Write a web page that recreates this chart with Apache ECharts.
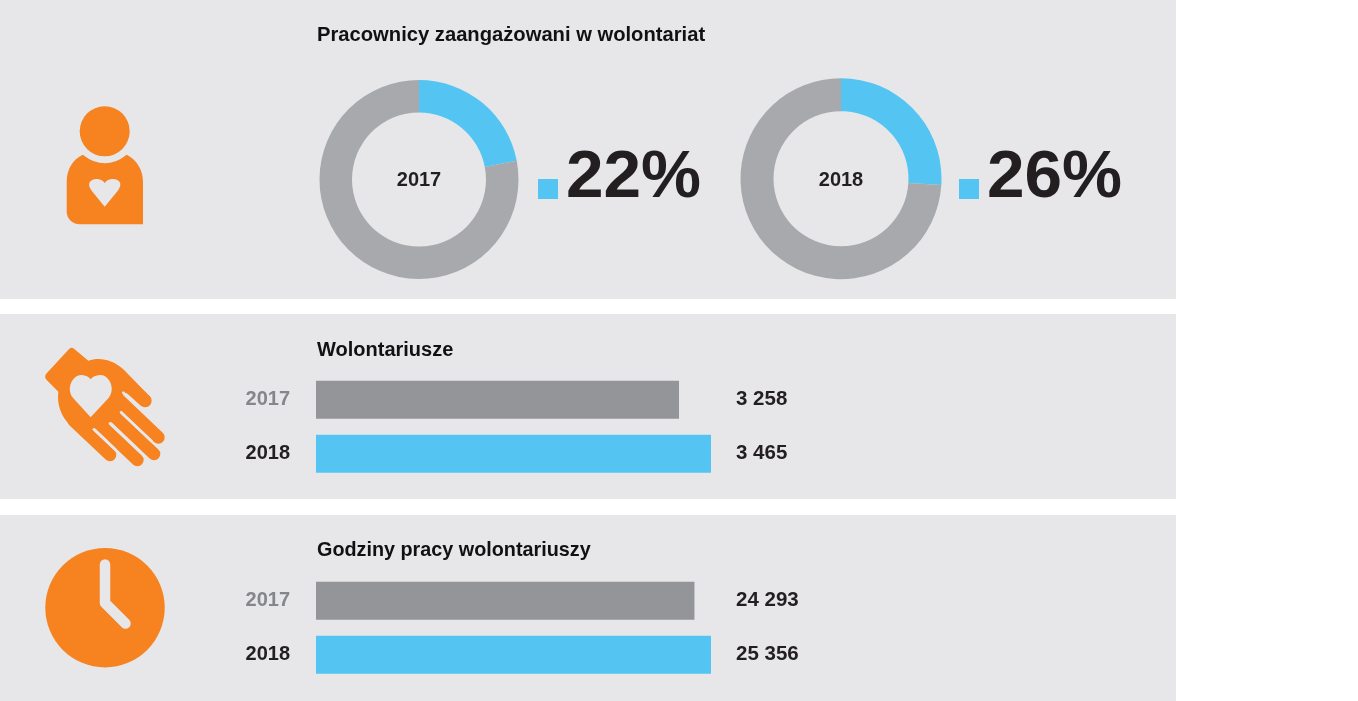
<!DOCTYPE html>
<html>
<head>
<meta charset="utf-8">
<style>
  html, body { margin: 0; padding: 0; background: #fff; }
  #main { width: 1358px; height: 701px; }
</style>
<script src="https://cdn.jsdelivr.net/npm/echarts@6/dist/echarts.min.js"></script>
</head>
<body>
<div id="main"></div>
<script>
const years = ['2017', '2018'];
const donutShares = [22, 26];
const volunteers = [3258, 3465];
const hours = [24293, 25356];
const titles = ['Pracownicy zaangażowani w wolontariat', 'Wolontariusze', 'Godziny pracy wolontariuszy'];

const FONT = '"Liberation Sans", Arial, sans-serif';
const PANEL = '#e7e7e9';
const ORANGE = '#f68220';
const BLUE = '#54c5f3';
const DARK = '#231f20';

const fmt = v => String(v).replace(/\B(?=(\d{3})+$)/g, ' ');

function titleAt(text, left, top, size, color, align) {
  return {
    text: text, left: left, top: top, padding: 0,
    textAlign: align || 'left',
    textStyle: { fontFamily: FONT, fontSize: size, fontWeight: 'bold', color: color || '#111' }
  };
}

function donut(i, cx, cy, r0, r1) {
  return {
    type: 'pie', silent: true, animation: false,
    center: [cx, cy], radius: [r0, r1], startAngle: 90, clockwise: true,
    label: { show: false }, labelLine: { show: false },
    data: [
      { value: donutShares[i], itemStyle: { color: BLUE } },
      { value: 100 - donutShares[i], itemStyle: { color: '#a7a9ac' } }
    ]
  };
}

function barSeries(idx, values) {
  return {
    type: 'bar', silent: true, animation: false,
    xAxisIndex: idx, yAxisIndex: idx * 2, barWidth: 38,
    data: values.map((v, k) => ({ value: v, itemStyle: { color: k ? BLUE : '#939598' } }))
  };
}

function yAxes(idx, values) {
  const base = {
    type: 'category', gridIndex: idx, inverse: true,
    axisLine: { show: false }, axisTick: { show: false }, splitLine: { show: false }
  };
  return [
    Object.assign({}, base, {
      data: years, position: 'left',
      axisLabel: {
        margin: 26, padding: [4, 0, 0, 0], fontFamily: FONT, fontSize: 20, fontWeight: 'bold',
        color: (v, k) => k === 0 ? '#848689' : DARK
      }
    }),
    Object.assign({}, base, {
      data: values.map(fmt), position: 'right',
      axisLabel: { margin: 25, padding: [4, 0, 0, 0], fontFamily: FONT, fontSize: 20.5, fontWeight: 'bold', color: DARK }
    })
  ];
}

function regPath(name, d) {
  echarts.graphic.registerShape(name, echarts.graphic.extendPath(d, {}));
  return name;
}

const panels = [[0, 299], [314, 185], [515, 186]].map(p => ({
  type: 'rect', z: -10, shape: { x: 0, y: p[0], width: 1176, height: p[1] }, style: { fill: PANEL }
}));

const squares = [[538, 179], [959, 179]].map(p => ({
  type: 'rect', shape: { x: p[0], y: p[1], width: 20, height: 20 }, style: { fill: BLUE }
}));

const heartPerson = regPath('heartPerson', 'M104.7 206.7 L91.5 190.5 C86 183 91 179 96.5 179 C100 179 103 180.5 104.7 183 C106.4 180.5 109.4 179 113 179 C118.5 179 123.5 183 118 190.5 Z');
const personBody = regPath('personBody', 'M82.7 154.7 Q105 172 126.7 154.7 C137 160 143 170 143 182 L143 224.3 L80 224.3 C72 224.3 66.7 218 66.7 211.7 L66.7 182 C66.7 170 72 160 82.7 154.7 Z');

const person = [
  { type: 'circle', shape: { cx: 104.7, cy: 131.3, r: 25 }, style: { fill: ORANGE } },
  { type: personBody, style: { fill: ORANGE } },
  { type: heartPerson, z: 3, style: { fill: PANEL } }
];

// ikony rysowane w ukladzie powiekszenia 3x, stad skala 1/3
const fingers = [
  [[290, 135], [375, 212], 40], [[292, 205], [415, 322], 38], [[279, 255], [402, 372], 38],
  [[229, 273], [352, 390], 38], [[161, 272], [270, 375], 38]
].map(f => ({
  type: 'polyline', shape: { points: [f[0], f[1]] },
  style: { stroke: ORANGE, lineWidth: f[2], lineCap: 'round', fill: 'none' }
}));
const slits = [
  [[310, 188], [370, 243]], [[303, 247], [395, 334]], [[270, 280], [362, 367]], [[222, 298], [285, 358]]
].map(f => ({
  type: 'polyline', z: 2, shape: { points: f },
  style: { stroke: PANEL, lineWidth: 8, lineCap: 'round', fill: 'none' }
}));
const palm = regPath('palm', 'M148 56 Q155 50 162 56 L205 92 C240 80 280 90 310 118 L380 190 L310 190 L303 248 L270 282 L222 298 L170 300 L148 283 C125 260 110 225 115 185 L78 148 Q72 138 80 130 Z');
const heartHand = regPath('heartHand', 'M212 262 L160 205 C135 175 160 133 185 135 C197 136 206 140 212 148 C218 140 227 136 240 135 C265 133 290 175 265 205 Z');

const hand = {
  type: 'group', x: 20, y: 330, scaleX: 1 / 3, scaleY: 1 / 3,
  children: [
    { type: palm, style: { fill: ORANGE } },
    ...fingers, ...slits,
    { type: heartHand, z: 3, style: { fill: PANEL } }
  ]
};

const clock = [
  { type: 'circle', shape: { cx: 105, cy: 607.7, r: 59.7 }, style: { fill: ORANGE } },
  {
    type: 'polyline', z: 3,
    shape: { points: [[105, 564.5], [105, 603], [125.5, 623.5]] },
    style: { stroke: PANEL, lineWidth: 10.5, lineCap: 'round', lineJoin: 'round', fill: 'none' }
  }
];

const chart = echarts.init(document.getElementById('main'));
chart.setOption({
  animation: false,
  title: [
    titleAt(titles[0], 317, 25, 20.2),
    titleAt(titles[1], 317, 340, 20),
    titleAt(titles[2], 317, 541, 19.8),
    titleAt(years[0], 419, 170, 20, DARK, 'center'),
    titleAt(years[1], 841, 170, 20, DARK, 'center'),
    titleAt(donutShares[0] + '%', 566, 144, 67.5, DARK),
    titleAt(donutShares[1] + '%', 987, 144, 67.5, DARK)
  ],
  grid: [
    { left: 316, top: 372.7, width: 395, height: 108 },
    { left: 316, top: 573.8, width: 395, height: 108 }
  ],
  xAxis: [
    // pierwszy wykres na oryginale nie startuje od zera: 3258 ma tam 363 px z 395
    { type: 'value', gridIndex: 0, min: 909, max: 3465, show: false },
    { type: 'value', gridIndex: 1, min: 0, max: 25356, show: false }
  ],
  yAxis: [...yAxes(0, volunteers), ...yAxes(1, hours)],
  series: [
    donut(0, 419, 179.5, 67, 99.5),
    donut(1, 841, 178.7, 67.5, 100.5),
    barSeries(0, volunteers),
    barSeries(1, hours)
  ],
  graphic: { elements: [...panels, ...squares, ...person, hand, ...clock] }
});
</script>
</body>
</html>
